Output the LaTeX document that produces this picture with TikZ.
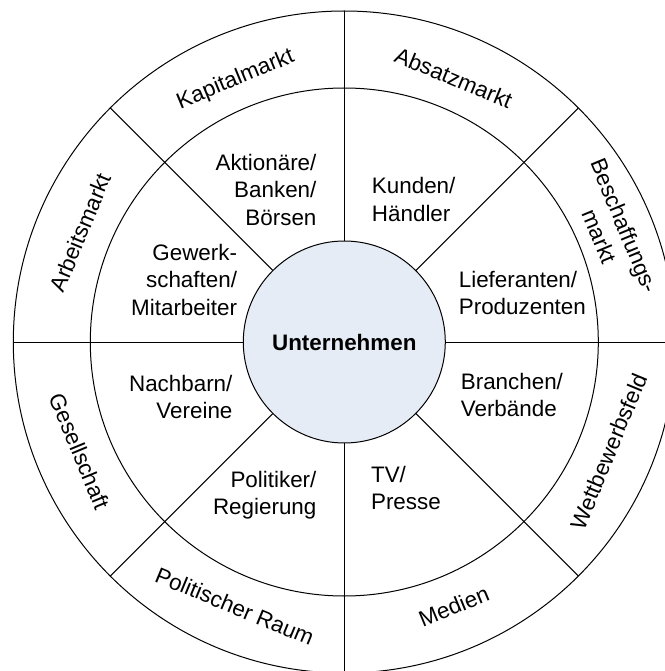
\documentclass[tikz,border=0pt]{standalone}
\usepackage{fontspec}
\setmainfont{Liberation Sans}
\definecolor{corefill}{RGB}{230,236,245}
\tikzset{ring/.style = {draw, circle, inner sep = 0, outer sep = 0, line width = 0.75pt}}
\tikzset{spoke/.style = {line width = 0.75pt}}
\tikzset{inlabel/.style = {inner sep = 0, font = \fontsize{16.8}{20.6}\selectfont}}
\tikzset{outlabel/.style = {inner sep = 0, text depth = 0pt, align = center,
                            font = \fontsize{16.8}{20.6}\selectfont}}

\begin{document}
\begin{tikzpicture}[x = 0.75pt, y = 0.75pt]
      \useasboundingbox (-344.3, -329) rectangle (319.7, 342);

      \node [ring, minimum size = 496.5pt] (outer) at (0, 0) {};
      \node [ring, minimum size = 381pt] (middle) at (0, 0) {};
      \node [ring, fill = corefill, minimum size = 151.5pt,
             font = \bfseries\fontsize{16.8}{20.6}\selectfont] (core) at (0, 0) {Unternehmen};

      \draw [spoke] (core.0) -- (outer.0);
      \draw [spoke] (core.45) -- (outer.45);
      \draw [spoke] (core.90) -- (outer.90);
      \draw [spoke] (core.135) -- (outer.135);
      \draw [spoke] (core.180) -- (outer.180);
      \draw [spoke] (core.225) -- (outer.225);
      \draw [spoke] (core.270) -- (outer.270);
      \draw [spoke] (core.315) -- (outer.315);

      \node [inlabel, anchor = north east, align = right] (aktionaere) at (-27.6, 188) {Aktionäre/\\Banken/\\Börsen};
      \node [inlabel, anchor = north east, align = right] (gewerk) at (-107, 98) {Gewerk-\\schaften/\\Mitarbeiter};
      \node [inlabel, anchor = north east, align = right] (nachbarn) at (-111.6, -33) {Nachbarn/\\Vereine};
      \node [inlabel, anchor = north east, align = right] (politiker) at (-27.6, -129) {Politiker/\\Regierung};
      \node [inlabel, anchor = north west, align = left] (kunden) at (27.4, 164.7) {Kunden/\\Händler};
      \node [inlabel, anchor = north west, align = left] (lieferanten) at (114.3, 71) {Lieferanten/\\Produzenten};
      \node [inlabel, anchor = north west, align = left] (branchen) at (116.3, -31) {Branchen/\\Verbände};
      \node [inlabel, anchor = north west, align = left] (tv) at (26.5, -124) {TV/\\Presse};

      \node [outlabel, rotate = 22.5] (kapital) at (112.5:286) {Kapitalmarkt};
      \node [outlabel, rotate = -22.5] (absatz) at (67.5:286) {Absatzmarkt};
      \node [outlabel, rotate = -67.5] (beschaffung) at (22.5:290) {Beschaffungs-\\markt};
      \node [outlabel, rotate = 67.5] (wettbewerb) at (-22.5:286) {Wettbewerbsfeld};
      \node [outlabel, rotate = 22.5] (medien) at (-67.5:286) {Medien};
      \node [outlabel, rotate = -22.5] (politik) at (-112.5:286) {Politischer Raum};
      \node [outlabel, rotate = -67.5] (gesellschaft) at (-157.5:286) {Gesellschaft};
      \node [outlabel, rotate = 67.5] (arbeit) at (157.5:286) {Arbeitsmarkt};
    \end{tikzpicture}
\end{document}
